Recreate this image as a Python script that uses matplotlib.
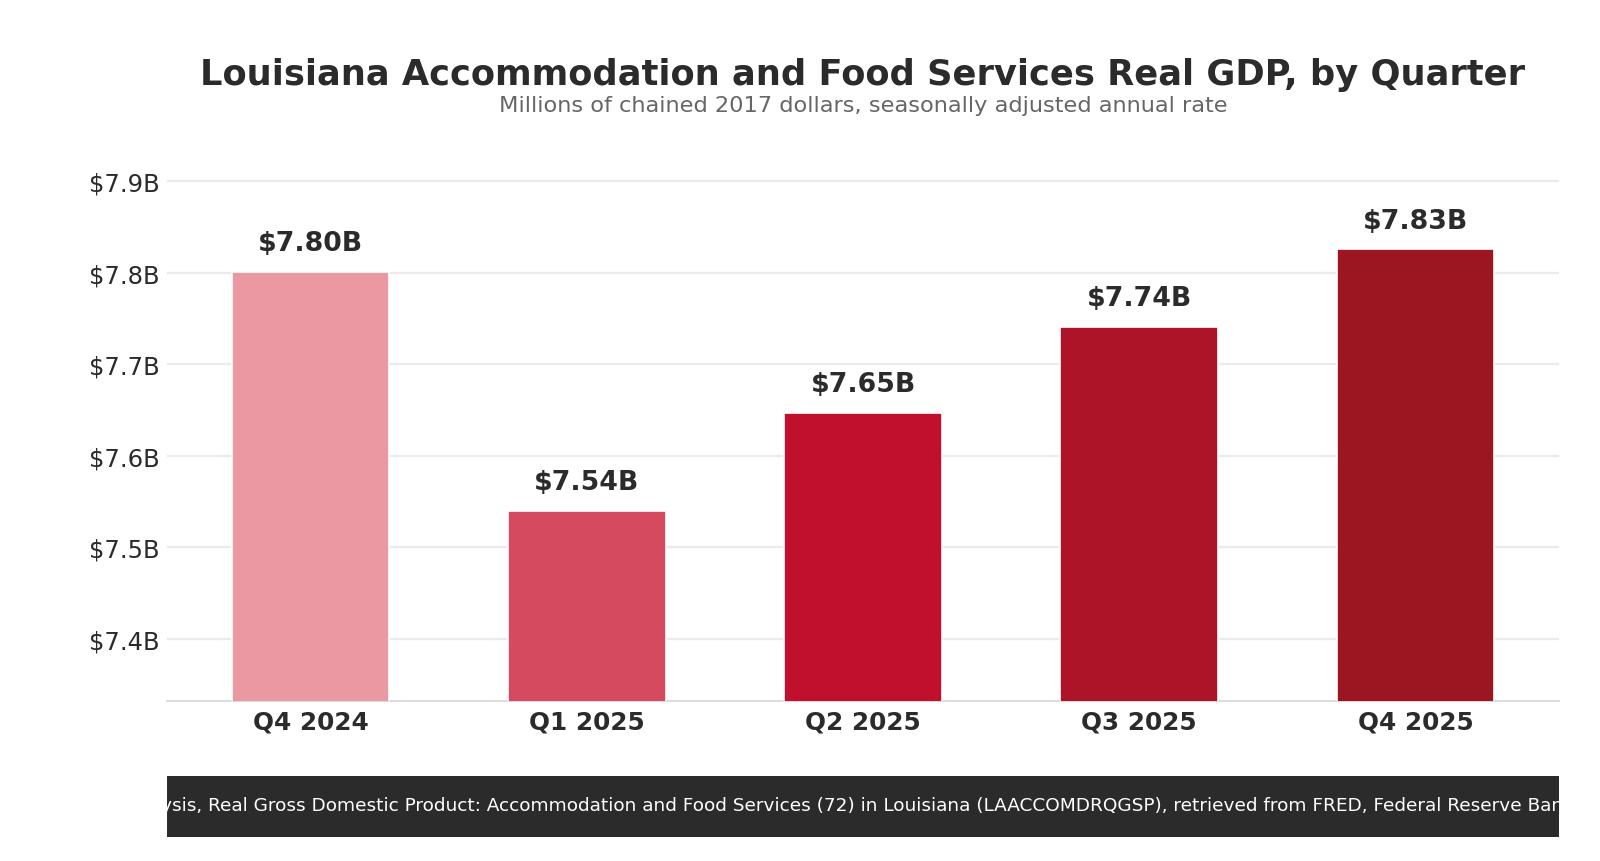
import matplotlib
matplotlib.use("Agg")
import matplotlib.pyplot as plt
from matplotlib.patches import Rectangle

categories = ["Q4 2024", "Q1 2025", "Q2 2025", "Q3 2025", "Q4 2025"]
values_millions = [7801, 7540, 7647, 7741, 7826]
bar_colors = ["#EA98A1", "#D64A5F", "#C1102D", "#AD1428", "#9B1621"]
ytick_values = [7.4, 7.5, 7.6, 7.7, 7.8, 7.9]

title = "Louisiana Accommodation and Food Services Real GDP, by Quarter"
subtitle = "Millions of chained 2017 dollars, seasonally adjusted annual rate"
source = ("Source: U.S. Bureau of Economic Analysis, Real Gross Domestic Product: "
          "Accommodation and Food Services (72) in Louisiana (LAACCOMDRQGSP), "
          "retrieved from FRED, Federal Reserve Bank of St. Louis")
hidden_prefix = "Source: U.S. Bureau of Economic Anal"
visible_end = "Source: U.S. Bureau of Economic Analysis, Real Gross Domestic Product: " \
              "Accommodation and Food Services (72) in Louisiana (LAACCOMDRQGSP), " \
              "retrieved from FRED, Federal Reserve Bar"

plt.rcParams['font.family'] = ['DejaVu Sans']
W, H = 1600, 862
fig = plt.figure(figsize=(W / 100, H / 100), dpi=100)
fig.patch.set_facecolor("white")

ax_left, ax_right = 167 / W, 1559 / W
ax_bottom, ax_top = 1 - 702 / H, 1 - 150 / H
ax = fig.add_axes([ax_left, ax_bottom, ax_right - ax_left, ax_top - ax_bottom])

vals_b = [v / 1000 for v in values_millions]
x = list(range(len(categories)))
ax.bar(x, vals_b, width=0.57, color=bar_colors, edgecolor="white",
       linewidth=1.2, zorder=3)

ax.set_ylim(7.332, 7.935)
ax.set_xlim(-0.52, 4.52)
ax.set_yticks(ytick_values)
ax.set_yticklabels([f"${v:.1f}B" for v in ytick_values])
ax.set_xticks(x)
ax.set_xticklabels(categories, fontweight="bold")
ax.tick_params(axis="y", length=0, labelsize=17.5, labelcolor="#2b2b2b", pad=5)
ax.tick_params(axis="x", length=0, labelsize=17.8, labelcolor="#2b2b2b", pad=6)
ax.grid(axis="y", color="#EBEBEB", linewidth=1.6, zorder=0)
ax.set_axisbelow(True)
for s in ["top", "right", "left"]:
    ax.spines[s].set_visible(False)
ax.spines["bottom"].set_color("#D5D5D5")
ax.spines["bottom"].set_linewidth(1.2)

for xi, v in zip(x, vals_b):
    ax.annotate(f"${v:.2f}B", (xi, v), xytext=(0, 11), textcoords="offset points",
                ha="center", va="bottom", fontsize=19.3, fontweight="bold", color="#2b2b2b")

cx = (ax_left + ax_right) / 2
fig.text(cx, 1 - 75 / H, title, ha="center", va="center", fontsize=25.4,
         fontweight="bold", color="#2b2b2b")
fig.text(cx, 1 - 106 / H, subtitle, ha="center", va="center", fontsize=16.2,
         color="#666666")

# Footer band
box_y0, box_y1 = 1 - 838 / H, 1 - 777 / H
box = Rectangle((ax_left, box_y0), ax_right - ax_left, box_y1 - box_y0,
                transform=fig.transFigure, facecolor="#2B2B2B", edgecolor="none")
fig.patches.append(box)

renderer = fig.canvas.get_renderer()


def text_w(s, fs):
    tt = fig.text(0, 0, s, fontsize=fs)
    w = tt.get_window_extent(renderer).width
    tt.remove()
    return w


# pick font size so that "ysis ... Bar" spans from x=161 to x=1562 px
target_start, target_end = 161, 1562
fs_src = 13.0
for _ in range(4):
    span = text_w(visible_end, fs_src) - text_w(hidden_prefix, fs_src)
    fs_src *= (target_end - target_start) / span
pw = text_w(hidden_prefix, fs_src)
start_px = target_start - pw
t = fig.text(start_px / W, 1 - 806 / H, source, ha="left", va="center",
             fontsize=fs_src, color="white")
t.set_clip_path(box)
t.set_clip_on(True)

fig.savefig("out.png", dpi=100, facecolor="white")
